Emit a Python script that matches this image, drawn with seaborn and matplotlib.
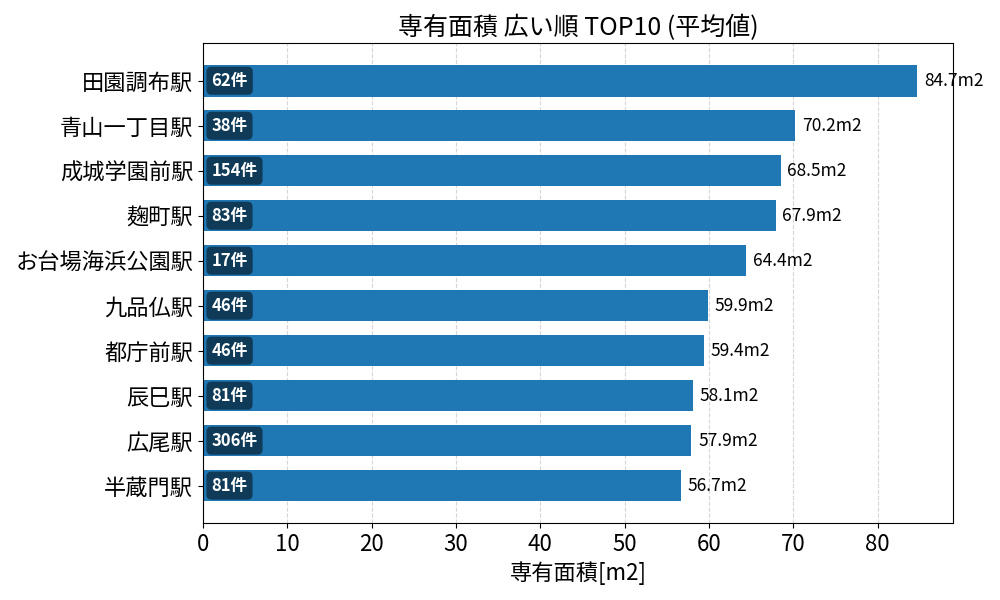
import pandas as pd
import numpy as np
import matplotlib
matplotlib.use('Agg')
import matplotlib.pyplot as plt
import seaborn as sns

# データ (平均専有面積 上位10駅)
stations = ['田園調布駅', '青山一丁目駅', '成城学園前駅', '麹町駅', 'お台場海浜公園駅',
            '九品仏駅', '都庁前駅', '辰巳駅', '広尾駅', '半蔵門駅']
avg_area = [84.7, 70.2, 68.5, 67.9, 64.4, 59.9, 59.4, 58.1, 57.9, 56.7]
counts = [62, 38, 154, 83, 17, 46, 46, 81, 306, 81]

sns.set_style('ticks', {'axes.edgecolor': 'black', 'text.color': 'black',
                        'axes.labelcolor': 'black', 'xtick.color': 'black',
                        'ytick.color': 'black'})
plt.rcParams['font.family'] = ['Noto Sans CJK JP', 'DejaVu Sans']


def main():
    df = pd.DataFrame({'station': stations, 'area': avg_area, 'count': counts})

    fig, ax = plt.subplots(figsize=(10, 6), dpi=100)
    sns.barplot(data=df, x='area', y='station', orient='h', color='#1f77b4',
                saturation=1, width=0.7, linewidth=0, ax=ax)

    n = len(stations)
    ax.set_xlim(0, max(avg_area) * 1.05)
    # matplotlib の barh と同じ余白にする
    ax.set_ylim(n - 1 + 0.35 + 0.05 * (n - 0.3), -0.35 - 0.05 * (n - 0.3))
    ax.grid(axis='x', linestyle='--', alpha=0.6, color='#bbbbbb')
    ax.set_axisbelow(True)

    for i, (v, c) in enumerate(zip(avg_area, counts)):
        ax.text(v + 0.8, i, f'{v:.1f}m2', va='center', ha='left', fontsize=12.5,
                color='black')
        ax.text(1.0, i, f'{c}件', va='center', ha='left', fontsize=12,
                color='white', fontweight='bold',
                bbox=dict(boxstyle='round,pad=0.3', facecolor='black',
                          alpha=0.5, edgecolor='none'))

    ax.set_title('専有面積 広い順 TOP10 (平均値)', fontsize=18)
    ax.set_xlabel('専有面積[m2]', fontsize=16)
    ax.set_ylabel('')
    ax.tick_params(axis='both', labelsize=16)
    for s in ax.spines.values():
        s.set_visible(True)

    plt.subplots_adjust(left=0.203, right=0.953, top=0.928, bottom=0.128)
    plt.savefig('out.png')


if __name__ == "__main__":
    main()
